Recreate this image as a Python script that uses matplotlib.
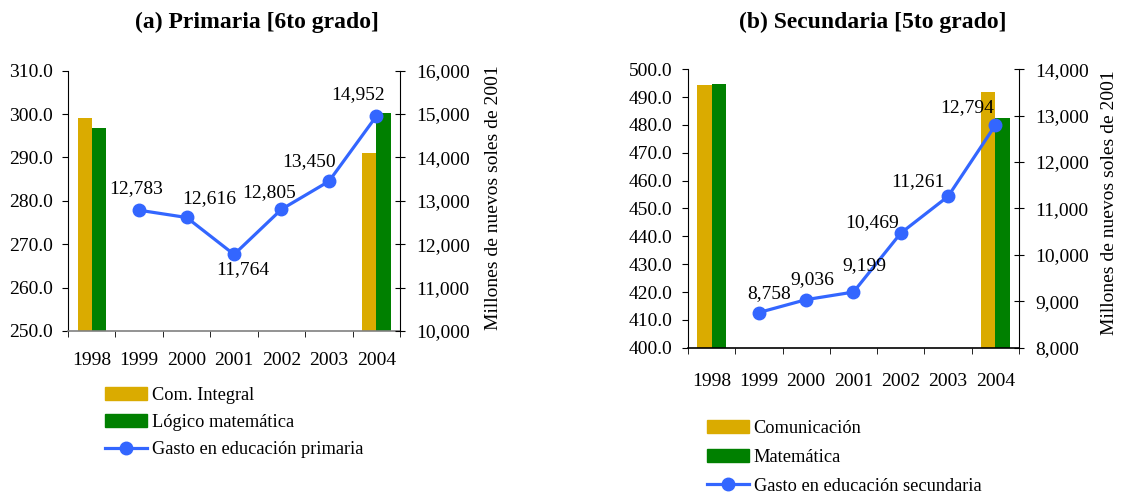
import matplotlib
matplotlib.use("Agg")
import matplotlib.pyplot as plt
import numpy as np
from matplotlib.lines import Line2D
from matplotlib.patches import Patch
from matplotlib.ticker import FuncFormatter, FixedLocator

plt.rcParams['font.family'] = ['Liberation Serif', 'DejaVu Serif']

years = ['1998', '1999', '2000', '2001', '2002', '2003', '2004']

# (a) primaria
prim_com = [299.1, np.nan, np.nan, np.nan, np.nan, np.nan, 291.0]
prim_mat = [296.8, np.nan, np.nan, np.nan, np.nan, np.nan, 300.3]
prim_gasto = [np.nan, 12783, 12616, 11764, 12805, 13450, 14952]

# (b) secundaria
sec_com = [494.4, np.nan, np.nan, np.nan, np.nan, np.nan, 491.8]
sec_mat = [494.7, np.nan, np.nan, np.nan, np.nan, np.nan, 482.5]
sec_gasto = [np.nan, 8758, 9036, 9199, 10469, 11261, 12794]

YELLOW = '#DAAB00'
GREEN = '#008000'
BLUE = '#3366FF'
FS = 14
LEG_FS = 13.2


def draw_panel(fig, rect, title, title_x, com, mat, gasto, ylim, y2lim, y2step,
               label_offsets, xpad, bottom_color, lab_x, lab_y):
    ax = fig.add_axes(rect)
    x = np.arange(len(years))
    w = 0.3
    ax.bar(x - w / 2, com, w, color=YELLOW)
    ax.bar(x + w / 2, mat, w, color=GREEN)
    ax.set_xlim(-0.5, len(years) - 0.5)
    ax.set_ylim(*ylim)
    ax.set_yticks(np.arange(ylim[0], ylim[1] + 0.1, 10))
    ax.yaxis.set_major_formatter(FuncFormatter(lambda v, p: f'{v:.1f}'))
    ax.set_xticks(x)
    ax.set_xticklabels(years)
    ax.xaxis.set_minor_locator(FixedLocator(np.arange(-0.5, len(years), 1.0)))
    ax.tick_params(axis='x', which='major', length=0, pad=xpad, labelsize=FS)
    ax.tick_params(axis='x', which='minor', length=4, direction='out')
    ax.tick_params(axis='y', length=4, direction='out', pad=7, labelsize=FS)
    for s in ['top', 'right']:
        ax.spines[s].set_visible(False)
    ax.spines['bottom'].set_color(bottom_color)
    ax.spines['bottom'].set_linewidth(1.2)

    ax2 = ax.twinx()
    ax2.plot(x, gasto, color=BLUE, lw=2.3, marker='o', ms=9)
    ax2.set_ylim(*y2lim)
    ax2.set_yticks(np.arange(y2lim[0], y2lim[1] + 1, y2step))
    ax2.yaxis.set_major_formatter(FuncFormatter(lambda v, p: f'{v:,.0f}'))
    ax2.tick_params(axis='y', length=7, direction='inout', pad=8, labelsize=FS)
    for s in ['top', 'left', 'bottom']:
        ax2.spines[s].set_visible(False)
    for xi, v, off in zip(x, gasto, label_offsets):
        if np.isnan(v):
            continue
        ax2.annotate(f'{v:,.0f}', (xi, v), xytext=off, textcoords='offset pixels',
                     ha='center', va='center', fontsize=FS)

    fig.text(title_x, 0.955, title, ha='center', va='center', fontsize=17,
             fontweight='bold')
    fig.text(lab_x, lab_y, 'Millones de nuevos soles de 2001', rotation=90,
             ha='center', va='center', fontsize=FS)
    return ax


fig = plt.figure(figsize=(11.21, 4.96), dpi=100)

draw_panel(fig, [0.0607, 0.3327, 0.2962, 0.5248], '(a) Primaria [6to grado]',
           257 / 1121, prim_com, prim_mat, prim_gasto, (250, 310), (10000, 16000), 1000,
           [(0, 0), (-3, 22), (23, 19), (9, -15), (-12, 17), (-20, 20), (-18, 22)],
           15, '#808080', 494 / 1121, 1 - 198 / 496)

draw_panel(fig, [0.6137, 0.2990, 0.2953, 0.5613], '(b) Secundaria [5to grado]',
           873 / 1121, sec_com, sec_mat, sec_gasto, (400, 500), (8000, 14000), 1000,
           [(0, 0), (10, 19), (6, 20), (11, 26), (-29, 11), (-30, 15), (-28, 18)],
           18, '#000000', 1110 / 1121, 1 - 203 / 496)

leg_kw = dict(frameon=False, fontsize=LEG_FS, handlelength=2.3, handletextpad=0.25,
              loc='upper left', borderaxespad=0, borderpad=0)

h1 = [Patch(color=YELLOW), Patch(color=GREEN),
      Line2D([], [], color=BLUE, lw=2.3, marker='o', ms=9)]
fig.legend(h1, ['Com. Integral', 'Lógico matemática', 'Gasto en educación primaria'],
           bbox_to_anchor=(105 / 1121, 1 - 387 / 496), labelspacing=0.55, **leg_kw)

h2 = [Patch(color=YELLOW), Patch(color=GREEN),
      Line2D([], [], color=BLUE, lw=2.3, marker='o', ms=9)]
fig.legend(h2, ['Comunicación', 'Matemática', 'Gasto en educación secundaria'],
           bbox_to_anchor=(707 / 1121, 1 - 420 / 496), labelspacing=0.65, **leg_kw)

fig.savefig('out.png', dpi=100)
